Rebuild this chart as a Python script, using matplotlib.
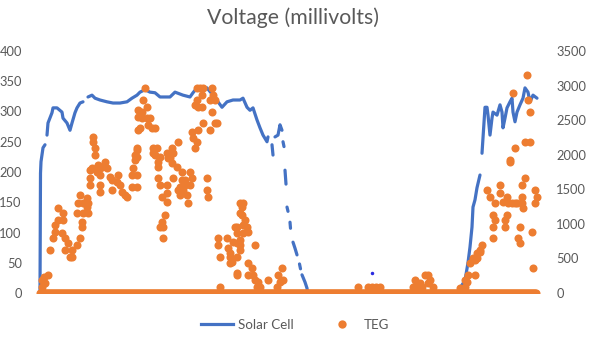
import numpy as np
import matplotlib.pyplot as plt
from matplotlib.lines import Line2D

# sample number (one per reading) and solar cell voltage in mV, None = no reading
solar_t = [0, 0.5, 1, 3, 5, None,
           7, 8, 12, 13, 17, 22, 23, 27, 30, 32, 35, 37, 40, 43, None,
           48, 52, 55, 60, 67, 73, 80, 87, 92, 97, 100, 105, 110, 115, 120, 130, 135,
           143, 150, 153, 157, 167, 173, 178, 182, 187, 193, 200, 203, 207, 210, 213,
           217, 220, 223, 227, 228, None, 232, 233, None, 235, 238, 240, 242, None,
           243, 244, None, 245, 246, None, 247, 248, None, 250, 250.5, None, 253, 255, 257, None,
           259.5, 260.5, None, 262, 265, 267, 267.5, None,
           420, 425, 428, 430, 432, 433, 435, 437, 440, None,
           442, 445, 447, 448, 450, 452, 453, 457, 460, 462, 463, 465, 467, 470,
           472, 473, 475, 477, 480, 483, 485, 488, 490, 493, 497]
solar_mv = [0, 198, 217, 240, 245, None,
            261, 281, 298, 306, 306, 299, 289, 281, 269, 281, 298, 306, 314, 316, None,
            324, 327, 322, 319, 316, 314, 314, 316, 322, 327, 332, 336, 332, 331, 324, 324, 332,
            327, 324, 331, 339, 339, 327, 316, 307, 316, 319, 319, 322, 307, 302, 306,
            286, 273, 261, 250, 258, None, 245, 228, None, 258, 261, 278, 269, None,
            250, 242, None, 203, 180, None, 142, 135, None, 117, 107, None, 84, 74, 63, None,
            48, 40, None, 30, 18, 8, 0, None,
            8, 21, 50, 76, 109, 142, 154, 174, 195, None,
            231, 307, 307, 294, 261, 289, 299, 294, 311, 299, 273, 289, 306, 316,
            322, 299, 283, 299, 311, 322, 339, 332, 316, 327, 322]

# lone solar reading in the night
solar_dot_t = [332]
solar_dot_mv = [33]

# TEG readings above zero: (sample number, mV)
teg_points = [
    (2, 90), (5, 150), (8, 260), (2, 190), (4, 230),
    (10, 620), (13, 800), (15, 880), (15, 980), (18, 1060), (18, 1230), (23, 1060),
    (23, 1160), (22, 870), (25, 800), (25, 620), (28, 720), (32, 520), (32, 620),
    (30, 520), (37, 690), (40, 800), (37, 1160), (38, 1300), (40, 1420), (43, 1300),
    (43, 1160), (42, 1030), (42, 950), (47, 1370), (48, 1300), (48, 1160), (47, 1240),
    (50, 1560), (50, 1660), (52, 1810), (50, 1780), (53, 2260), (53, 2180), (55, 2100),
    (55, 2000), (58, 1850), (57, 1750), (60, 1810), (60, 1710), (60, 1560), (60, 1460),
    (62, 1820), (65, 1890), (67, 1810), (70, 1680), (72, 1490), (72, 1630), (77, 1610),
    (78, 1710), (80, 1560), (82, 1460), (85, 1420), (87, 1390), (92, 1530), (92, 1710),
    (93, 1810), (95, 1920), (97, 2100), (97, 1710), (97, 1530), (98, 2650), (98, 2540),
    (98, 2360),
    (105, 2960), (103, 2790), (107, 2690), (102, 2620), (102, 2530), (107, 2530),
    (110, 2530), (108, 2430), (112, 2390), (115, 2390), (100, 2390), (97, 2070),
    (97, 1970), (95, 2000), (113, 2100), (115, 2000), (118, 1890), (118, 1820),
    (118, 1660), (120, 1560), (127, 1560), (127, 1450), (122, 1390), (127, 1320),
    (125, 1130), (122, 1030), (123, 950), (123, 800), (120, 950), (117, 2100),
    (113, 2020), (120, 1970),
    (132, 2100), (138, 2180), (133, 2020), (130, 1950), (132, 1880), (137, 1820),
    (133, 1660), (142, 1750), (142, 1630), (140, 1530), (145, 1560), (143, 1490),
    (147, 1420), (148, 1300), (150, 1750), (152, 1660), (150, 1560), (145, 1630),
    (138, 1490), (140, 1420), (127, 2020), (128, 1950),
    (153, 2240), (155, 2100), (157, 2180), (152, 2330), (158, 2360), (163, 2460),
    (170, 2360), (175, 2460), (172, 2620), (170, 2790), (173, 2860), (157, 2790),
    (155, 2720), (158, 2690), (162, 2690), (160, 2960), (157, 2960), (163, 2960),
    (172, 2960), (162, 2860), (175, 2790), (177, 2460), (167, 1660), (167, 1490),
    (168, 1390),
    (178, 800), (178, 690), (180, 520), (180, 90), (187, 800), (188, 650), (190, 520),
    (192, 450), (197, 260), (193, 740), (197, 870), (197, 950), (200, 770), (200, 690),
    (203, 870), (203, 980), (202, 1130), (202, 1240), (203, 1300), (205, 1060),
    (207, 950), (208, 880), (200, 620), (197, 520), (215, 690), (208, 430), (212, 360),
    (208, 260), (213, 260), (215, 190), (217, 90), (220, 90), (218, 160), (228, 190),
    (237, 90), (240, 160), (242, 360), (243, 190), (238, 260), (190, 580), (190, 430),
    (197, 720), (197, 290), (200, 1300), (200, 1160), (195, 950),
    (318, 90), (328, 90), (332, 90), (336, 90), (340, 90), (375, 190), (377, 90),
    (380, 150), (385, 260), (388, 260), (390, 190), (393, 90), (382, 90), (388, 150),
    (373, 90),
    (420, 70), (425, 90), (425, 190), (428, 260), (435, 260), (430, 430), (435, 480),
    (437, 580), (440, 620), (442, 690), (437, 510), (433, 510), (440, 590), (427, 160),
    (447, 1490), (450, 1390), (455, 1300), (453, 1130), (455, 1060), (453, 950),
    (453, 800), (460, 1560), (460, 1450), (463, 1320), (467, 1390), (468, 1300),
    (467, 1130), (465, 1060), (465, 950), (475, 1300), (482, 1560), (485, 1660),
    (482, 1390), (483, 1230), (480, 950), (478, 800), (480, 720), (492, 880),
    (495, 1490), (497, 1390), (495, 1300), (493, 360), (470, 1890), (472, 1300),
    (477, 1300), (482, 1300),
    (487, 3150), (473, 2890), (488, 2790), (490, 2620), (485, 2180), (490, 2180),
    (475, 2100), (470, 1920),
]

# TEG read zero at every sample
n_samples = 497
zero_t = np.arange(n_samples)

blue = '#4472C4'
orange = '#ED7D31'
grey = '#595959'
plt.rcParams['font.family'] = ['Lato', 'DejaVu Sans']

solar_t = np.array([np.nan if v is None else v for v in solar_t], dtype=float)
solar_mv = np.array([np.nan if v is None else v for v in solar_mv], dtype=float)
teg_t = [p[0] for p in teg_points]
teg_mv = [p[1] for p in teg_points]

fig = plt.figure(figsize=(5.9, 3.38), dpi=100)
ax = fig.add_axes([33 / 590, 1 - 293 / 338, 515 / 590, 242 / 338])
ax2 = ax.twinx()

ax.plot(solar_t, solar_mv, color=blue, lw=2.3, solid_capstyle='round', zorder=2)
ax.plot(solar_dot_t, solar_dot_mv, 'o', color='#2B2BE0', ms=1.5, zorder=2)

ax2.plot(zero_t, np.zeros(n_samples), 'o', color=orange, ms=5.8, mec='none')
ax2.plot(teg_t, teg_mv, 'o', color=orange, ms=5.8, mec='none')

ax.set_xlim(-7, 508)
ax.set_ylim(0, 400)
ax2.set_ylim(0, 3500)
ax.set_yticks(np.arange(0, 401, 50))
ax2.set_yticks(np.arange(0, 3501, 500))
ax.set_xticks([])
for a in (ax, ax2):
    for s in a.spines.values():
        s.set_visible(False)
    a.tick_params(axis='y', length=0, labelsize=9.3, colors=grey)
ax.tick_params(axis='y', pad=8)
ax2.tick_params(axis='y', pad=6)
ax.set_zorder(1)
ax.patch.set_visible(False)
ax2.set_zorder(2)

fig.text(0.497, 1 - 18 / 338, 'Voltage (millivolts)', ha='center', va='center',
         fontsize=15.3, color=grey)

handles = [Line2D([], [], color=blue, lw=2.3),
           Line2D([], [], ls='none', marker='o', color=orange, ms=6, mec='none')]
fig.legend(handles, ['Solar Cell', 'TEG'], loc='center', bbox_to_anchor=(0.5, 1 - 325 / 338),
           ncol=2, frameon=False, fontsize=9.6, labelcolor=grey, handlelength=2.4,
           columnspacing=2.4, handletextpad=0.4)

fig.savefig('out.png', dpi=100)
